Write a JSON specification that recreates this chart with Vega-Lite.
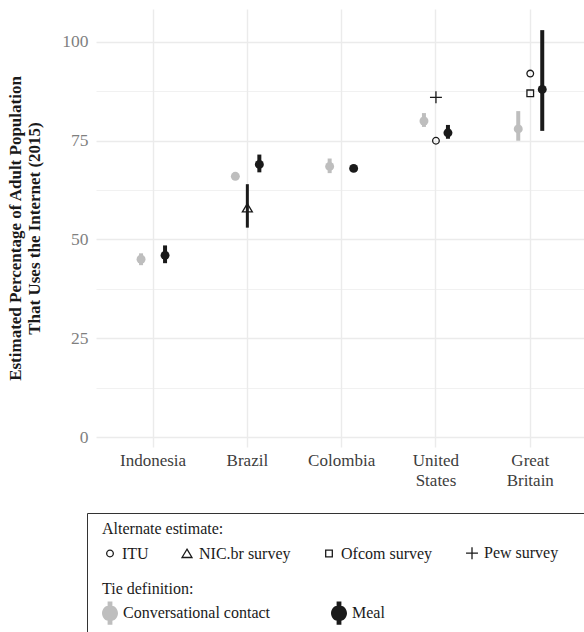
{
  "$schema": "https://vega.github.io/schema/vega-lite/v6.json",
  "width": 488,
  "height": 438,
  "autosize": {"type": "none"},
  "padding": {"left": 96, "top": 9, "right": 0, "bottom": 185},
  "background": "white",
  "config": {
    "font": "Liberation Serif",
    "view": {"stroke": null},
    "axis": {"labelFont": "Liberation Serif", "titleFont": "Liberation Serif"},
    "legend": {"labelFont": "Liberation Serif", "titleFont": "Liberation Serif"}
  },
  "datasets": {
    "ties": [
      {"country": "Indonesia", "tie": "Conversational contact", "est": 45, "lo": 43.5, "hi": 46.5},
      {"country": "Indonesia", "tie": "Meal", "est": 46, "lo": 44, "hi": 48.5},
      {"country": "Brazil", "tie": "Conversational contact", "est": 66, "lo": 65.6, "hi": 66.4},
      {"country": "Brazil", "tie": "Meal", "est": 69, "lo": 67, "hi": 71.5},
      {"country": "Colombia", "tie": "Conversational contact", "est": 68.5, "lo": 66.8, "hi": 70.5},
      {"country": "Colombia", "tie": "Meal", "est": 68, "lo": 67.5, "hi": 68.5},
      {"country": "United States", "tie": "Conversational contact", "est": 80, "lo": 78.5, "hi": 82},
      {"country": "United States", "tie": "Meal", "est": 77, "lo": 75.5, "hi": 79},
      {"country": "Great Britain", "tie": "Conversational contact", "est": 78, "lo": 75, "hi": 82.5},
      {"country": "Great Britain", "tie": "Meal", "est": 88, "lo": 77.5, "hi": 103}
    ],
    "alts": [
      {"country": "Brazil", "source": "NIC.br survey", "est": 58, "lo": 53, "hi": 64},
      {"country": "United States", "source": "ITU", "est": 75},
      {"country": "United States", "source": "Pew survey", "est": 86},
      {"country": "Great Britain", "source": "ITU", "est": 92},
      {"country": "Great Britain", "source": "Ofcom survey", "est": 87}
    ]
  },
  "encoding": {
    "x": {
      "field": "country",
      "type": "nominal",
      "scale": {"domain": ["Indonesia", "Brazil", "Colombia", "United States", "Great Britain"], "paddingInner": 0, "paddingOuter": 0.0875, "align": 0.6},
      "axis": {
        "title": null,
        "labelExpr": "split(datum.label, ' ')",
        "labelFont": "Liberation Serif",
        "labelFontSize": 17,
        "labelColor": "#3d3d3d",
        "labelPadding": 5,
        "labelLineHeight": 20,
        "labelAngle": 0,
        "domain": false,
        "ticks": false,
        "grid": true,
        "gridColor": "#ebebeb",
        "gridWidth": 1.4,
        "bandPosition": 0.5
      }
    }
  },
  "layer": [
    {
      "data": {"name": "ties"},
      "mark": {"type": "rule", "strokeWidth": 4},
      "encoding": {
        "y": {
          "field": "lo",
          "type": "quantitative",
          "scale": {"domain": [-2.53, 108.35], "nice": false, "zero": false},
          "axis": {
            "values": [0, 12.5, 25, 37.5, 50, 62.5, 75, 87.5, 100],
            "labelExpr": "datum.value % 25 === 0 ? datum.label : ''",
            "title": ["Estimated Percentage of Adult Population", "That Uses the Internet (2015)"],
            "titleFont": "Liberation Serif",
            "titleFontSize": 17,
            "titleFontWeight": "bold",
            "titleColor": "#1a1a1a",
            "titlePadding": 18,
            "titleLineHeight": 19,
            "labelFont": "Liberation Serif",
            "labelFontSize": 17.5,
            "labelColor": "#7f7f7f",
            "labelPadding": 8,
            "domain": false,
            "ticks": false,
            "gridColor": "#ebebeb",
            "gridWidth": {"condition": {"test": "datum.value % 25 === 0", "value": 1.4}, "value": 0.7}
          }
        },
        "y2": {"field": "hi"},
        "xOffset": {"field": "tie", "type": "nominal", "scale": {"domain": ["Conversational contact", "Meal"], "paddingInner": 0, "paddingOuter": 0.965}},
        "color": {
          "field": "tie",
          "type": "nominal",
          "scale": {"domain": ["Conversational contact", "Meal"], "range": ["#bebebe", "#1a1a1a"]},
          "legend": {
            "orient": "none",
            "legendX": -9,
            "legendY": 504,
            "title": ["\u00a0", "Tie definition:"],
            "titleFont": "Liberation Serif",
            "titleLimit": 3000,
            "titleLineHeight": 53,
            "titleFontSize": 16,
            "titleFontWeight": "normal",
            "titleColor": "#1a1a1a",
            "titleAnchor": "start",
            "titlePadding": 8,
            "padding": 15,
            "strokeColor": "#333333",
            "labelFont": "Liberation Serif",
            "labelFontSize": 16,
            "labelColor": "#1a1a1a",
            "labelOffset": 5,
            "labelLimit": 1000,
            "labelExpr": "datum.label == 'Meal' ? datum.label + '\u2800\u2800\u2800\u2800\u2800\u2800\u2800\u2800\u2800\u2800\u2800\u2800\u2800\u2800\u2800\u2800' : datum.label",
            "symbolType": "M-1,0A1,1 0 1,1 1,0A1,1 0 1,1 -1,0Z M-0.3,-1.45H0.3V1.45H-0.3Z",
            "symbolSize": 256,
            "symbolStrokeWidth": 0,
            "direction": "horizontal",
            "columns": 2,
            "columnPadding": 60
          }
        }
      }
    },
    {
      "data": {"name": "ties"},
      "mark": {"type": "point", "filled": true, "size": 80, "opacity": 1},
      "encoding": {
        "y": {"field": "est", "type": "quantitative"},
        "xOffset": {"field": "tie", "type": "nominal"},
        "color": {"field": "tie", "type": "nominal"}
      }
    },
    {
      "data": {"name": "alts"},
      "transform": [{"filter": "isValid(datum.lo)"}],
      "mark": {"type": "rule", "strokeWidth": 3, "color": "#1a1a1a"},
      "encoding": {
        "y": {"field": "lo", "type": "quantitative"},
        "y2": {"field": "hi"}
      }
    },
    {
      "data": {"name": "alts"},
      "mark": {"type": "point", "filled": false, "size": 44, "strokeWidth": 1.3, "color": "#1a1a1a", "opacity": 1},
      "encoding": {
        "y": {"field": "est", "type": "quantitative"},
        "shape": {
          "field": "source",
          "type": "nominal",
          "scale": {"domain": ["ITU", "NIC.br survey", "Ofcom survey", "Pew survey"], "range": ["circle", "M0,-1.3L1.5,1.2L-1.5,1.2Z", "square", "M-1.8,0H1.8M0,-1.8V1.8"]},
          "legend": {
            "orient": "none",
            "legendX": 6,
            "legendY": 512,
            "title": "Alternate estimate:",
            "titleFont": "Liberation Serif",
            "titleFontSize": 16,
            "titleFontWeight": "normal",
            "titleColor": "#1a1a1a",
            "titleAnchor": "start",
            "titlePadding": 8,
            "padding": 0,
            "labelFont": "Liberation Serif",
            "labelFontSize": 16,
            "labelColor": "#1a1a1a",
            "labelOffset": 4,
            "symbolSize": 44,
            "symbolStrokeWidth": 1.3,
            "symbolStrokeColor": "#1a1a1a",
            "symbolFillColor": "transparent",
            "direction": "horizontal",
            "columns": 4,
            "columnPadding": 30
          }
        }
      }
    }
  ]
}
